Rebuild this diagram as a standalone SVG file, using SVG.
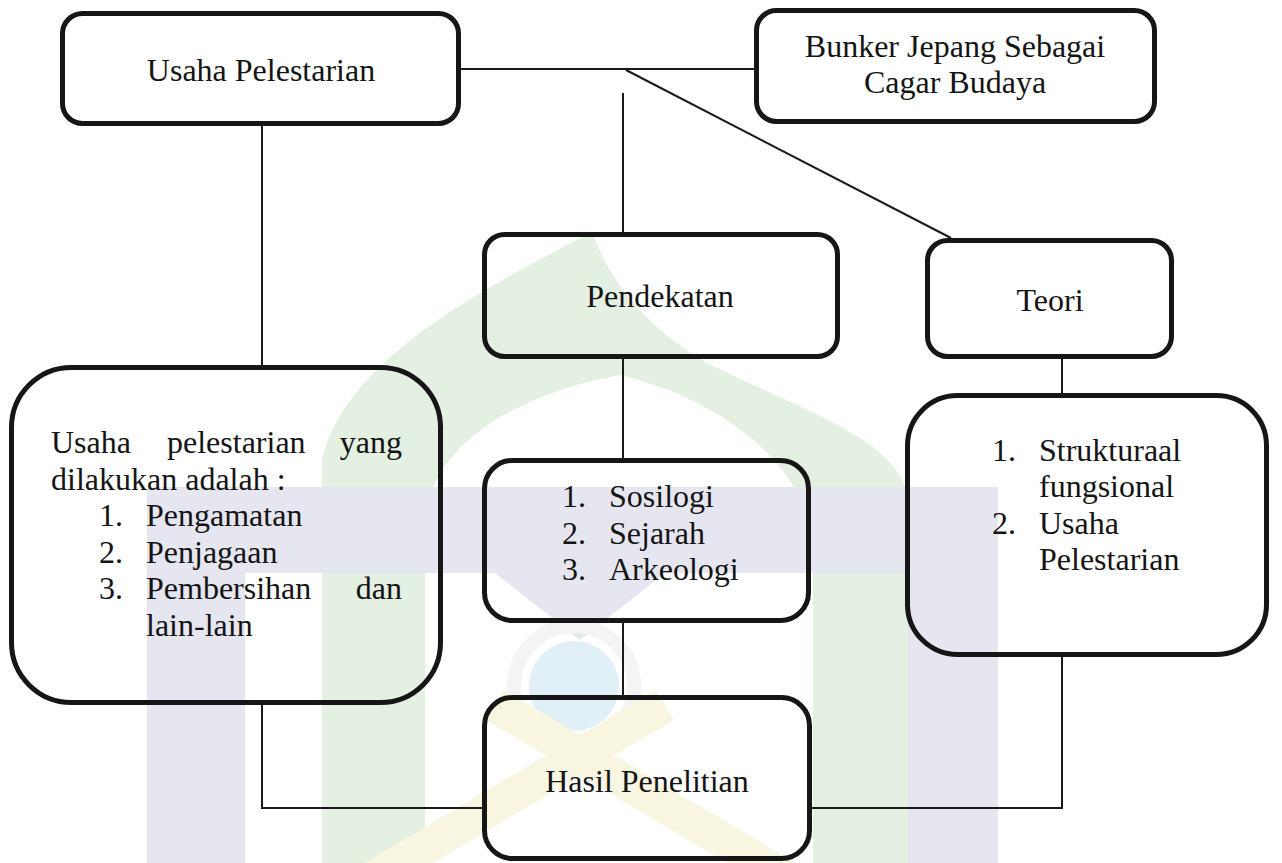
<svg xmlns="http://www.w3.org/2000/svg" width="1282" height="863" viewBox="0 0 1282 863">
<style>
.box{fill:none;stroke:#161616;stroke-width:5}
.ln{fill:none;stroke:#1a1a1a;stroke-width:2}
text{font-family:"Liberation Serif","Times New Roman",serif;font-size:32px;fill:#141414}
.c{text-anchor:middle}
.e{text-anchor:end}
</style>
<rect width="1282" height="863" fill="#ffffff"/>
<g id="watermark">
<path d="M322,863 L322,460 C345,360 480,290 592,232 C612,285 645,325 705,362 C805,412 902,440 908,500 L908,863 L813,863 L813,540 C800,452 705,395 620,375 C525,392 432,440 425,520 L425,863 Z" fill="#e4f0e2"/>
<path d="M147,863 L147,487 L998,487 L998,863 L908,863 L908,573 L665,573 L580,640 L495,573 L245,573 L245,863 Z" fill="#e6e6f0"/>
<circle cx="574" cy="686" r="60" fill="none" stroke="#f2f4f5" stroke-width="14"/>
<circle cx="574" cy="686" r="45" fill="#e1eff7"/>
<path d="M495,705 L790,880 M665,705 L370,880" stroke="#f8f5e1" stroke-width="35" fill="none"/>
</g>
<g id="connectors">
<path class="ln" d="M461,69 H754"/>
<path class="ln" d="M623,93 V232"/>
<path class="ln" d="M626,70 L951,238"/>
<path class="ln" d="M262,126 V365"/>
<path class="ln" d="M623,359 V458"/>
<path class="ln" d="M623,623 V695"/>
<path class="ln" d="M262,705 V808 H482"/>
<path class="ln" d="M1062,359 V393"/>
<path class="ln" d="M1062,657 V808 H812"/>
</g>
<g id="n-usaha">
<rect class="box" x="62.5" y="13.5" width="396" height="110" rx="20"/>
<text class="c" x="261" y="81">Usaha Pelestarian</text>
</g>
<g id="n-bunker">
<rect class="box" x="756.5" y="10.5" width="398" height="111" rx="20"/>
<text class="c" x="955" y="57">Bunker Jepang Sebagai</text>
<text class="c" x="955" y="93">Cagar Budaya</text>
</g>
<g id="n-pendekatan">
<rect class="box" x="484.5" y="234.5" width="353" height="122" rx="20"/>
<text class="c" x="660" y="307">Pendekatan</text>
</g>
<g id="n-teori">
<rect class="box" x="927.5" y="240.5" width="244" height="116" rx="20"/>
<text class="c" x="1050" y="311">Teori</text>
</g>
<g id="n-usaha-detail">
<rect class="box" x="11.5" y="367.5" width="429" height="335" rx="60"/>
<text x="51" y="453">Usaha</text>
<text x="167" y="453">pelestarian</text>
<text class="e" x="402" y="453">yang</text>
<text x="51" y="490">dilakukan adalah :</text>
<text x="99" y="526">1.</text><text x="146" y="526">Pengamatan</text>
<text x="99" y="563">2.</text><text x="146" y="563">Penjagaan</text>
<text x="99" y="599">3.</text><text x="146" y="599">Pembersihan</text>
<text class="e" x="402" y="599">dan</text>
<text x="146" y="636">lain-lain</text>
</g>
<g id="n-pendekatan-list">
<rect class="box" x="484.5" y="460.5" width="324" height="160" rx="28"/>
<text x="562" y="507">1.</text><text x="609" y="507">Sosilogi</text>
<text x="562" y="544">2.</text><text x="609" y="544">Sejarah</text>
<text x="562" y="580">3.</text><text x="609" y="580">Arkeologi</text>
</g>
<g id="n-teori-list">
<rect class="box" x="907.5" y="395.5" width="359" height="259" rx="50"/>
<text x="992" y="461">1.</text><text x="1039" y="461">Strukturaal</text>
<text x="1039" y="497">fungsional</text>
<text x="992" y="534">2.</text><text x="1039" y="534">Usaha</text>
<text x="1039" y="570">Pelestarian</text>
</g>
<g id="n-hasil">
<rect class="box" x="484.5" y="697.5" width="325" height="161" rx="28"/>
<text class="c" x="647" y="792">Hasil Penelitian</text>
</g>
</svg>
